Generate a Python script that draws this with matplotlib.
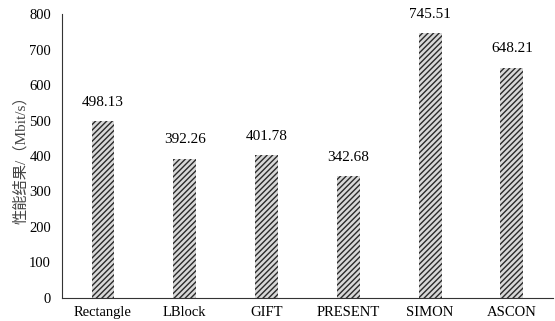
import matplotlib
matplotlib.use("Agg")
import matplotlib.pyplot as plt

plt.rcParams['font.family'] = ['Liberation Serif', 'Noto Sans CJK SC']
plt.rcParams['hatch.linewidth'] = 1.0
plt.rcParams['hatch.color'] = '#2a2a2a'

# data
ciphers = ["Rectangle", "LBlock", "GIFT", "PRESENT", "SIMON", "ASCON"]
throughput = [498.13, 392.26, 401.78, 342.68, 745.51, 648.21]
yticks = [0, 100, 200, 300, 400, 500, 600, 700, 800]

fig = plt.figure(figsize=(5.55, 3.21), dpi=100)
ax = fig.add_axes([0.112, 0.072, 0.884, 0.884])

bars = ax.bar(range(len(ciphers)), throughput, width=0.28,
              color='#d8d8d8', hatch='//////', edgecolor='#2a2a2a', linewidth=0)

for b, v in zip(bars, throughput):
    ax.annotate("{:.2f}".format(v), (b.get_x() + b.get_width() / 2, v),
                xytext=(0, 9), textcoords='offset points',
                ha='center', va='bottom', fontsize=11)

ax.set_xlim(-0.5, len(ciphers) - 0.5)
ax.set_ylim(0, 800)
ax.set_yticks(yticks)
ax.set_xticks(range(len(ciphers)))
ax.set_xticklabels(ciphers, fontsize=10.5)
ax.tick_params(axis='y', labelsize=10.5, length=0, pad=8)
ax.tick_params(axis='x', length=0, pad=6)

ax.spines['top'].set_visible(False)
ax.spines['right'].set_visible(False)
ax.spines['left'].set_color('#333333')
ax.spines['bottom'].set_color('#333333')

ax.set_ylabel("性能结果/（Mbit/s）", fontsize=11, color='#444444', labelpad=1)

fig.savefig("out.png", dpi=100)
